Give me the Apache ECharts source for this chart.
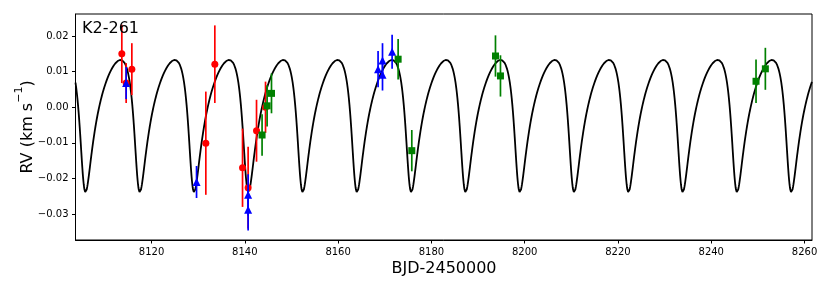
<!DOCTYPE html>
<html>
<head>
<meta charset="utf-8">
<script src="https://cdn.jsdelivr.net/npm/echarts@6/dist/echarts.min.js"></script>
<style>html,body{margin:0;padding:0;background:#fff}#c{width:830px;height:291px}</style>
</head>
<body>
<div id="c"></div>
<script>
// ---- tick labels ----
const xTicks = [8120, 8140, 8160, 8180, 8200, 8220, 8240, 8260];
const yTicks = [-0.03, -0.02, -0.01, 0.00, 0.01, 0.02];

// ---- red (circles) ----
const redT   = [8113.63, 8114.56, 8115.78, 8131.64, 8133.57, 8139.51, 8140.71, 8142.51, 8144.44];
const redRV  = [0.0150, 0.0068, 0.0107, -0.0101, 0.0121, -0.0170, -0.0226, -0.0066, 0.0000];
const redErr = [0.0082, 0.0056, 0.0073, 0.0145, 0.0109, 0.0110, 0.0115, 0.0087, 0.0072];

// ---- blue (triangles) ----
const blueT   = [8114.56, 8129.65, 8140.71, 8140.71, 8168.57, 8169.52, 8169.52, 8171.58];
const blueRV  = [0.0068, -0.0210, -0.0246, -0.0288, 0.0107, 0.0131, 0.0091, 0.0156];
const blueErr = [0.0045, 0.0045, 0.0058, 0.0058, 0.0051, 0.0049, 0.0044, 0.0048];

// ---- green (squares) ----
const greenT   = [8143.70, 8144.78, 8145.72, 8172.87, 8175.80, 8193.74, 8194.81, 8249.60, 8251.60];
const greenRV  = [-0.0078, 0.0004, 0.0039, 0.0135, -0.0122, 0.0144, 0.0088, 0.0073, 0.0108];
const greenErr = [0.0058, 0.0058, 0.0056, 0.0057, 0.0058, 0.0058, 0.0058, 0.0061, 0.0059];

// ---- Keplerian model parameters ----
const modelP = 11.64;      // period (d)
const modelTp = 8105.39;   // time of periastron
const modelE = 0.39;       // eccentricity
const modelOmega = 2.55;   // argument of periastron (rad)
const modelK = 0.01859;    // semi-amplitude (km/s)
const modelGamma = 0.00072;// offset (km/s)

const xMin = 8103.7, xMax = 8261.6;
const yMin = -0.0373, yMax = 0.0262;

function keplerRV(t) {
  let M = 2 * Math.PI * (t - modelTp) / modelP;
  M = ((M % (2 * Math.PI)) + 2 * Math.PI) % (2 * Math.PI);
  let E = M + modelE * Math.sin(M);
  for (let i = 0; i < 12; i++) {
    E -= (E - modelE * Math.sin(E) - M) / (1 - modelE * Math.cos(E));
  }
  const nu = 2 * Math.atan2(Math.sqrt(1 + modelE) * Math.sin(E / 2), Math.sqrt(1 - modelE) * Math.cos(E / 2));
  return modelK * (Math.cos(nu + modelOmega) + modelE * Math.cos(modelOmega)) + modelGamma;
}
const modelData = [];
for (let t = xMin; t <= xMax; t += 0.04) modelData.push([t, keplerRV(t)]);

function pts(T, V, S) { return T.map((t, i) => [t, V[i], S[i]]); }

function errSeries(data, color, z) {
  return {
    type: 'custom', z: z, silent: true, clip: true,
    data: data,
    encode: { x: 0, y: 1 },
    renderItem: function (params, api) {
      const x = api.value(0), y = api.value(1), s = api.value(2);
      const p1 = api.coord([x, y - s]);
      const p2 = api.coord([x, y + s]);
      return {
        type: 'line',
        shape: { x1: p1[0], y1: p1[1], x2: p2[0], y2: p2[1] },
        style: { stroke: color, lineWidth: 1.7 }
      };
    }
  };
}
function markSeries(data, color, symbol, size, z) {
  return {
    type: 'scatter', z: z, symbol: symbol, symbolSize: size,
    data: data.map(d => [d[0], d[1]]),
    itemStyle: { color: color, opacity: 1 }
  };
}

const fmt = v => {
  const s = Math.abs(v).toFixed(2);
  return (v < -1e-9 ? '\u2212' : '') + s;
};

const chart = echarts.init(document.getElementById('c'), null, { renderer: 'canvas' });
chart.setOption({
  animation: false,
  backgroundColor: '#fff',
  grid: { left: 75.5, right: 18, top: 14, bottom: 51, show: true, borderColor: '#000', borderWidth: 1, backgroundColor: 'transparent' },
  xAxis: {
    type: 'value', min: xMin, max: xMax,
    axisLine: { show: true, onZero: false, lineStyle: { color: '#000', width: 1 } },
    axisTick: { show: true, length: 3.5, lineStyle: { color: '#000' }, customValues: xTicks },
    axisLabel: { customValues: xTicks, color: '#000', fontSize: 10, fontFamily: 'DejaVu Sans', margin: 7.5, formatter: v => String(Math.round(v)) },
    splitLine: { show: false }
  },
  yAxis: {
    type: 'value', min: yMin, max: yMax,
    axisLine: { show: true, onZero: false, lineStyle: { color: '#000', width: 1 } },
    axisTick: { show: true, length: 3.5, lineStyle: { color: '#000' }, customValues: yTicks },
    axisLabel: { customValues: yTicks, color: '#000', fontSize: 10, fontFamily: 'DejaVu Sans', margin: 7, formatter: fmt },
    splitLine: { show: false }
  },
  graphic: [
    { type: 'text', left: 82, top: 21, z: 100, style: { text: 'K2-261', fill: '#000', font: '16px "DejaVu Sans"' } },
    { type: 'text', x: 444, y: 269, z: 100, style: { text: 'BJD-2450000', fill: '#000', font: '16px "DejaVu Sans"', align: 'center', verticalAlign: 'middle' } },
    { type: 'text', x: 25, y: 127, rotation: Math.PI / 2, z: 100,
      style: {
        text: '{a|RV (km s}{b|\u22121}{a|)}', align: 'center', verticalAlign: 'middle',
        rich: {
          a: { fontSize: 16, fontFamily: 'DejaVu Sans', fill: '#000', color: '#000', verticalAlign: 'bottom', lineHeight: 22 },
          b: { fontSize: 11, fontFamily: 'DejaVu Sans', fill: '#000', color: '#000', verticalAlign: 'top', lineHeight: 22 }
        }
      } }
  ],
  series: [
    { type: 'line', z: 1, data: modelData, showSymbol: false, symbol: 'none', smooth: false,
      lineStyle: { color: '#000', width: 1.8 }, clip: true },
    errSeries(pts(redT, redRV, redErr), '#ff0000', 2),
    markSeries(pts(redT, redRV, redErr), '#ff0000', 'circle', 7, 3),
    errSeries(pts(blueT, blueRV, blueErr), '#0000ff', 4),
    markSeries(pts(blueT, blueRV, blueErr), '#0000ff', 'triangle', 8, 5),
    errSeries(pts(greenT, greenRV, greenErr), '#008000', 6),
    markSeries(pts(greenT, greenRV, greenErr), '#008000', 'rect', 7, 7)
  ]
});
</script>
</body>
</html>
